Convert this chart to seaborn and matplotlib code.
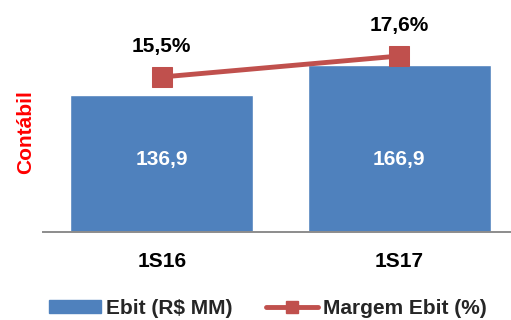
import matplotlib
matplotlib.use("Agg")
import matplotlib.pyplot as plt
import seaborn as sns
import pandas as pd
from matplotlib.patches import Patch
from matplotlib.lines import Line2D

periods = ["1S16", "1S17"]
ebit = [136.9, 166.9]
margem = [15.5, 17.6]
ebit_labels = ["136,9", "166,9"]
margem_labels = ["15,5%", "17,6%"]

BLUE = "#4F81BD"
RED = "#C0504D"
AXIS_GRAY = "#8C8C8C"
FS = 15

sns.set_theme(style="white")
plt.rcParams["font.family"] = ["Liberation Sans", "DejaVu Sans"]
plt.rcParams["font.weight"] = "bold"

df = pd.DataFrame({"periodo": periods, "ebit": ebit, "margem": margem})

fig = plt.figure(figsize=(5.11, 3.20), dpi=100)
W, H = 511, 320
ax = fig.add_axes([43 / W, (H - 232) / H, (518 - 43) / W, (232 - 10) / H])

sns.barplot(data=df, x="periodo", y="ebit", color=BLUE, width=0.77,
            saturation=1, ax=ax, zorder=2)
ax.set_xlim(-0.5, 1.5)
ax.set_ylim(0, 222)

for i, lab in enumerate(ebit_labels):
    ax.text(i, 72, lab, color="white", ha="center", va="center",
            fontsize=FS, fontweight="bold", zorder=5)

ax2 = ax.twinx()
sns.lineplot(data=df, x="periodo", y="margem", color=RED, linewidth=3.5,
             marker="s", markersize=14, markeredgecolor=RED, ax=ax2,
             zorder=4)
ax2.set_ylim(0, 22.2)
ax2.set_xlim(-0.5, 1.5)
for i, (v, lab) in enumerate(zip(margem, margem_labels)):
    ax2.annotate(lab, (i, v), xytext=(0, 22), textcoords="offset points",
                 ha="center", va="center", fontsize=FS, fontweight="bold",
                 color="black")

for a in (ax, ax2):
    a.set_xlabel("")
    a.set_ylabel("")
    a.set_yticks([])
    for s in ("top", "right", "left"):
        a.spines[s].set_visible(False)
ax2.spines["bottom"].set_visible(False)
ax.spines["bottom"].set_color(AXIS_GRAY)
ax.spines["bottom"].set_linewidth(1.4)

ax.set_xticks(range(len(periods)))
ax.set_xticklabels(periods, fontsize=FS, fontweight="bold")
ax.tick_params(axis="x", which="major", length=0, pad=14.5, colors="black")
ax.set_xticks([-0.5, 0.5, 1.5], minor=True)
ax.tick_params(axis="x", which="minor", length=4.5, width=1.4,
               color=AXIS_GRAY, direction="out")

fig.text(26 / W, 1 - 132 / H, "Contábil", rotation=90, color="#FF0000",
         fontsize=FS, fontweight="bold", ha="center", va="center")

handles = [
    Patch(facecolor=BLUE, edgecolor=BLUE),
    Line2D([0], [0], color=RED, linewidth=3.5, marker="s", markersize=9),
]
fig.legend(handles, ["Ebit (R$ MM)", "Margem Ebit (%)"], ncol=2,
           loc="center", bbox_to_anchor=(268 / W, 1 - 308 / H), frameon=False,
           prop={"size": FS, "weight": "bold"}, handlelength=2.5,
           handleheight=0.58, handletextpad=0.24, columnspacing=1.6,
           borderpad=0, borderaxespad=0)

fig.savefig("out.png", dpi=100)
